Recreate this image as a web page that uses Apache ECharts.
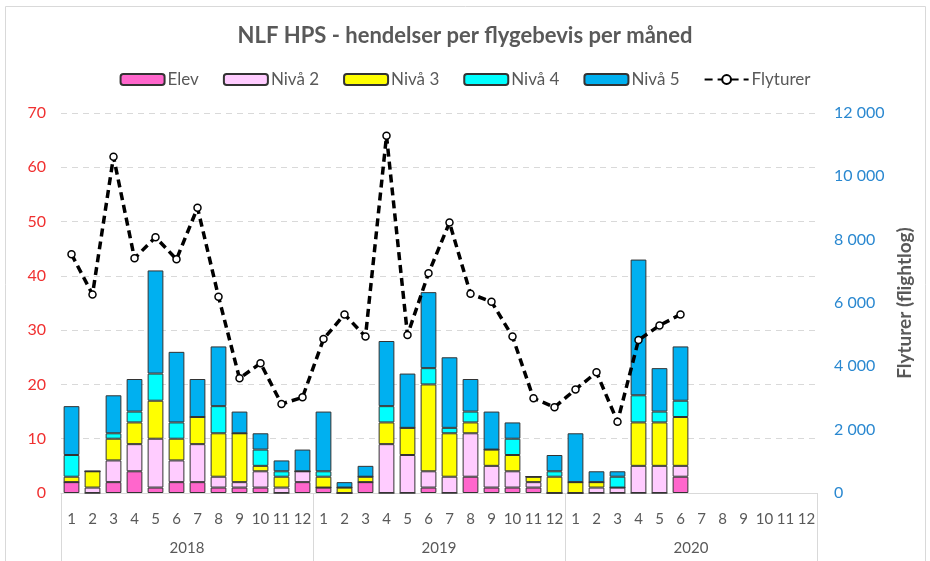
<!DOCTYPE html>
<html><head><meta charset="utf-8">
<script src="https://cdn.jsdelivr.net/npm/echarts@6/dist/echarts.min.js"></script>
<style>html,body{margin:0;padding:0;background:#fff}#c{width:930px;height:561px}</style>
</head><body><div id="c"></div>
<script>
const months = ['1','2','3','4','5','6','7','8','9','10','11','12',
                '1','2','3','4','5','6','7','8','9','10','11','12',
                '1','2','3','4','5','6','7','8','9','10','11','12'];
const years = ['2018','2019','2020'];
const elev  = [2,0,2,4,1,2,2,1,1,1,0,2, 1,0,2,0,0,1,0,3,1,1,1,0, 0,0,0,0,0,3, null,null,null,null,null,null];
const niva2 = [0,1,4,5,9,4,7,2,1,3,1,2, 0,0,0,9,7,3,3,8,4,3,1,0, 0,1,1,5,5,2, null,null,null,null,null,null];
const niva3 = [1,3,4,4,7,4,5,8,9,1,2,0, 2,1,1,4,5,16,8,2,3,3,1,3, 2,1,0,8,8,9, null,null,null,null,null,null];
const niva4 = [4,0,1,2,5,3,0,5,0,3,1,0, 1,0,0,3,0,3,1,2,0,3,0,1, 0,0,2,5,2,3, null,null,null,null,null,null];
const niva5 = [9,0,7,6,19,13,7,11,4,3,2,4, 11,1,2,12,10,14,13,6,7,3,0,3, 9,2,1,25,8,10, null,null,null,null,null,null];
const flyturer = [7540,6270,10620,7410,8080,7380,9010,6200,3620,4100,2810,3020,
                  4860,5640,4940,11280,4990,6940,8540,6290,6040,4940,2990,2710,
                  3270,3810,2250,4830,5290,5640, null,null,null,null,null,null];

const FONT = 'Lato';
const GRAY = '#595959';
const chart = echarts.init(document.getElementById('c'));
function barSeries(name, data, color) {
  return {
    name, type: 'bar', stack: 'a', data, barWidth: '75%',
    itemStyle: { color, borderColor: '#333', borderWidth: 1 },
    yAxisIndex: 0, xAxisIndex: 0
  };
}
const fmt = v => String(v).replace(/\B(?=(\d{3})+(?!\d))/g, ' ');
chart.setOption({
  animation: false,
  textStyle: { fontFamily: FONT },
  title: {
    text: 'NLF HPS - hendelser per flygebevis per måned',
    left: 'center', top: 20,
    textStyle: { fontFamily: FONT, fontSize: 22, fontWeight: 'bold', color: GRAY }
  },
  legend: {
    top: 66, left: 'center', itemWidth: 44, itemHeight: 11, itemGap: 24,
    textStyle: { fontFamily: FONT, fontSize: 17, color: GRAY, padding: [0,0,0,-2] },
    data: ['Elev','Nivå 2','Nivå 3','Nivå 4','Nivå 5','Flyturer']
  },
  grid: { left: 61, right: 113, top: 113, bottom: 68, containLabel: false },
  xAxis: [
    {
      type: 'category', data: months, gridIndex: 0,
      axisLine: { show: true, lineStyle: { color: '#d9d9d9' } },
      axisTick: { show: false },
      axisLabel: { interval: 0, margin: 19, fontSize: 15, color: GRAY, fontFamily: FONT }
    },
    {
      type: 'category', data: years, gridIndex: 0, position: 'bottom',
      axisLine: { show: false },
      axisTick: { show: true, length: 70, lineStyle: { color: '#d9d9d9' } },
      axisLabel: { interval: 0, margin: 48, fontSize: 15, color: GRAY, fontFamily: FONT },
      splitLine: { show: false }
    }
  ],
  yAxis: [
    {
      type: 'value', min: 0, max: 70, interval: 10, position: 'left',
      axisLine: { show: false }, axisTick: { show: false },
      axisLabel: { margin: 15, fontSize: 16, color: '#f03030', fontFamily: FONT },
      splitLine: { show: true, lineStyle: { type: [6, 5], color: '#d9d9d9' } }
    },
    {
      type: 'value', min: 0, max: 12000, interval: 2000, position: 'right',
      axisLine: { show: false }, axisTick: { show: false },
      axisLabel: { margin: 17, fontSize: 16, color: '#2a88d0', fontFamily: FONT, formatter: fmt },
      splitLine: { show: false },
      name: 'Flyturer (flightlog)', nameLocation: 'middle', nameGap: 73, nameRotate: 90,
      nameTextStyle: { fontFamily: FONT, fontSize: 19, fontWeight: 'bold', color: GRAY }
    }
  ],
  series: [
    barSeries('Elev', elev, '#ff66cc'),
    barSeries('Nivå 2', niva2, '#ffccff'),
    barSeries('Nivå 3', niva3, '#ffff00'),
    barSeries('Nivå 4', niva4, '#00ffff'),
    barSeries('Nivå 5', niva5, '#00b0f0'),
    {
      name: 'Flyturer', type: 'line', yAxisIndex: 1, xAxisIndex: 0, data: flyturer,
      symbol: 'circle', symbolSize: 7, showSymbol: true,
      lineStyle: { color: '#000', width: 3.5, type: [8, 5] },
      itemStyle: { color: '#fff', borderColor: '#000', borderWidth: 1.5 },
      z: 5
    }
  ],
  graphic: [
    { type: 'rect', shape: { x: 5.5, y: 6.5, width: 920, height: 600 }, style: { fill: 'none', stroke: '#d9d9d9', lineWidth: 1 }, silent: true }
  ]
});
</script></body></html>
